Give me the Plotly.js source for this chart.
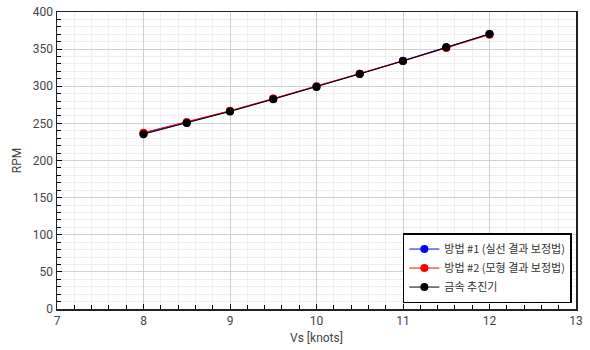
<!DOCTYPE html>
<html>
<head>
<meta charset="utf-8">
<script src="https://cdn.plot.ly/plotly-3.0.1.min.js"></script>
<style>html,body{margin:0;padding:0;background:#fff;}#chart{width:590px;height:350px;}</style>
</head>
<body>
<div id="chart"></div>
<script>
const speeds = [8, 8.5, 9, 9.5, 10, 10.5, 11, 11.5, 12];
const method1 = [236.5, 251, 266.5, 283, 299.5, 317, 334.5, 352.5, 370.5];
const method2 = [237.5, 252, 267, 283.5, 300, 317, 334, 351.5, 369.5];
const metalProp = [235.5, 250.5, 266, 282.5, 299, 316.5, 334, 352.5, 370.5];
const seriesNames = ['방법 #1 (실선 결과 보정법)', '방법 #2 (모형 결과 보정법)', '금속 추진기'];
const seriesColors = ['#0000ff', '#ff0000', '#000000'];
const seriesValues = [method1, method2, metalProp];

const traces = seriesValues.map((vals, i) => ({
  x: speeds, y: vals, name: seriesNames[i], type: 'scatter', mode: 'lines+markers',
  legendgroup: 'g' + i,
  line: {color: seriesColors[i], width: 1},
  marker: {color: seriesColors[i], size: 8}
}));

const fontFam = 'Roboto, "Noto Sans CJK KR", sans-serif';
const layout = {
  width: 590, height: 350,
  margin: {l: 57, r: 14, t: 12, b: 41},
  paper_bgcolor: '#fff', plot_bgcolor: '#fff',
  font: {family: fontFam, size: 12, color: '#444'},
  showlegend: true,
  legend: {x: 0.992, y: 0.02, xanchor: 'right', yanchor: 'bottom', bgcolor: '#fff',
    bordercolor: '#000', borderwidth: 1.5, font: {family: '"Noto Sans CJK KR", sans-serif', size: 11, color: '#333'},
    tracegroupgap: 0, itemwidth: 30},
  xaxis: {
    range: [7, 13], dtick: 1, tick0: 7, ticks: 'inside', ticklen: 5, tickcolor: '#000',
    showgrid: true, gridcolor: '#d0d0d0', gridwidth: 1, zeroline: false,
    showline: true, linecolor: '#222', linewidth: 1.5, mirror: true,
    minor: {dtick: 0.2, ticks: 'inside', ticklen: 4, tickcolor: '#000', showgrid: true, gridcolor: '#efefef'},
    title: {text: 'Vs [knots]', font: {size: 12, color: '#444'}, standoff: 6},
    tickfont: {size: 12, color: '#444'}
  },
  yaxis: {
    range: [0, 400], dtick: 50, tick0: 0, ticks: 'inside', ticklen: 5, tickcolor: '#000',
    showgrid: true, gridcolor: '#d0d0d0', gridwidth: 1, zeroline: false,
    showline: true, linecolor: '#222', linewidth: 1.5, mirror: true,
    minor: {dtick: 10, ticks: 'inside', ticklen: 4, tickcolor: '#000', showgrid: true, gridcolor: '#efefef'},
    title: {text: 'RPM', font: {size: 12, color: '#444'}, standoff: 8},
    tickfont: {size: 12, color: '#444'}
  }
};
Plotly.newPlot('chart', traces, layout, {displayModeBar: false, staticPlot: true});
</script>
</body>
</html>
